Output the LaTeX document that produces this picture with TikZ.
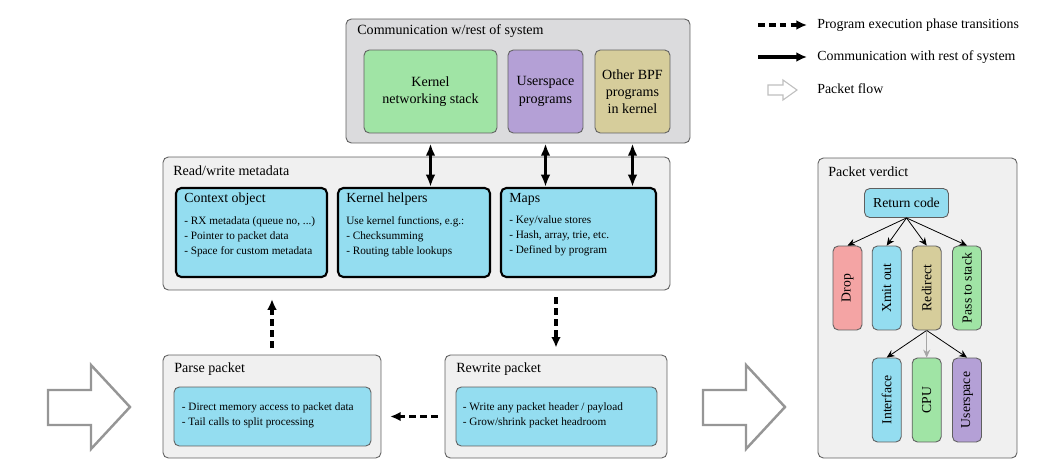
\documentclass[tikz,border=0pt]{standalone}
\usepackage{fontspec}
\setmainfont{Liberation Serif}
\usepackage{tikz}
\usetikzlibrary{arrows.meta,calc}

\definecolor{grpgray}{RGB}{240,240,240}
\definecolor{commgray}{RGB}{219,219,221}
\definecolor{edgegray}{RGB}{95,95,95}
\definecolor{boxcyan}{RGB}{148,221,240}
\definecolor{boxgreen}{RGB}{160,228,165}
\definecolor{boxpurple}{RGB}{180,160,214}
\definecolor{boxkhaki}{RGB}{214,205,155}
\definecolor{boxred}{RGB}{244,164,164}
\definecolor{flowgray}{RGB}{150,150,150}

\begin{document}
\begin{tikzpicture}[x=0.02cm, y=-0.02cm,
  group/.style={draw=edgegray, fill=grpgray, rounded corners=3pt, line width=0.5pt, inner sep=0pt},
  grptitle/.style={anchor=west, inner sep=0pt, font=\fontsize{8}{9}\selectfont},
  sysbox/.style={draw=edgegray, rounded corners=3pt, line width=0.5pt, minimum height=1.66cm,
    align=center, font=\fontsize{8}{9.8}\selectfont},
  metabox/.style={draw=black, fill=boxcyan, rounded corners=3pt, line width=1.2pt, minimum height=1.78cm},
  metatext/.style={anchor=north west, inner sep=0pt, align=left, font=\fontsize{6.4}{8.6}\selectfont},
  stepbox/.style={draw=edgegray, fill=boxcyan, rounded corners=3pt, line width=0.5pt, minimum height=1.18cm},
  steptext/.style={anchor=west, inner sep=0pt, align=left, font=\fontsize{6.4}{8.6}\selectfont},
  vbox/.style={draw=edgegray, rounded corners=3pt, line width=0.5pt, minimum width=0.58cm, minimum height=1.68cm,
    inner sep=0pt, font=\fontsize{7.8}{9}\selectfont},
  lgdtext/.style={anchor=west, inner sep=0pt, font=\fontsize{7.9}{9}\selectfont},
  commarrow/.style={line width=1.8pt, {Latex[length=7pt,width=5.5pt]}-{Latex[length=7pt,width=5.5pt]}},
  phasearrow/.style={line width=1.9pt, dash pattern=on 3.8pt off 2.4pt, -{Latex[length=6pt,width=5.5pt]}},
  verdarrow/.style={line width=0.45pt, -{Stealth[length=4.5pt,width=4pt]}},
  flowarrow/.style={draw=flowgray, fill=white, line width=1.4pt}
]
  \useasboundingbox (0,0) rectangle (1049,470);

  % communication with rest of system
  \node[group, fill=commgray, minimum width=6.88cm, minimum height=2.48cm] (comm) at (518,81) {};
  \node[grptitle] (commtitle) at (357,31) {Communication w/rest of system};
  \node[sysbox, fill=boxgreen, minimum width=2.66cm] (knet) at (430.5,91.5) {Kernel\\networking stack};
  \node[sysbox, fill=boxpurple, minimum width=1.5cm] (usp) at (545.5,91.5) {Userspace\\programs};
  \node[sysbox, fill=boxkhaki, minimum width=1.5cm] (obpf) at (632.5,91.5) {Other BPF\\programs\\in kernel};

  % read/write metadata
  \node[group, minimum width=10.14cm, minimum height=2.66cm] (rwmeta) at (416.5,223.5) {};
  \node[grptitle] (rwtitle) at (173,171) {Read/write metadata};
  \node[metabox, minimum width=3.02cm] (ctx) at (251.5,232.5) {};
  \node[metabox, minimum width=3.04cm] (khelp) at (414,232.5) {};
  \node[metabox, minimum width=3.1cm] (maps) at (578.5,232.5) {};
  \node[metatext] (ctxtext) at ($(ctx.north west)+(9,6)$)
    {{\fontsize{7.9}{10}\selectfont Context object}\\[3.5pt]
     - RX metadata (queue no, ...)\\ - Pointer to packet data\\ - Space for custom metadata};
  \node[metatext] (khelptext) at ($(khelp.north west)+(9,6)$)
    {{\fontsize{7.9}{10}\selectfont Kernel helpers}\\[3.5pt]
     Use kernel functions, e.g.:\\ - Checksumming\\ - Routing table lookups};
  \node[metatext] (mapstext) at ($(maps.north west)+(9,6)$)
    {{\fontsize{7.9}{10}\selectfont Maps}\\[3.5pt]
     - Key/value stores\\ - Hash, array, trie, etc.\\ - Defined by program};

  \draw[commarrow] (knet.south |- comm.south) -- (knet.south |- khelp.north);
  \draw[commarrow] (usp.south |- comm.south) -- (usp.south |- maps.north);
  \draw[commarrow] (obpf.south |- comm.south) -- (obpf.south |- maps.north);

  % parse and rewrite
  \node[group, minimum width=4.36cm, minimum height=2.06cm] (parse) at (272,406.5) {};
  \node[grptitle] (parsetitle) at (174,369) {Parse packet};
  \node[stepbox, minimum width=3.94cm] (parsein) at (272.5,416.5) {};
  \node[steptext] (parsetext) at ($(parsein.west)+(8,-1)$)
    {- Direct memory access to packet data\\ - Tail calls to split processing};
  \node[group, minimum width=4.44cm, minimum height=2.06cm] (rewrite) at (556,406.5) {};
  \node[grptitle] (rewritetitle) at (456,369) {Rewrite packet};
  \node[stepbox, minimum width=4.02cm] (rewritein) at (556.5,416.5) {};
  \node[steptext] (rewritetext) at ($(rewritein.west)+(7,-1)$)
    {- Write any packet header / payload\\ - Grow/shrink packet headroom};

  \draw[phasearrow, shorten <=4pt, shorten >=5pt] (parse.north) -- (parse.north |- rwmeta.south);
  \draw[phasearrow, shorten <=4pt, shorten >=4pt] (rewrite.north |- rwmeta.south) -- (rewrite.north);
  \draw[phasearrow, shorten <=4pt, shorten >=5pt] (rewrite.west |- parsein.west) -- (parse.east |- parsein.west);

  % packet flow
  \draw[flowarrow] (48,390) -- (91,390) -- (91,365) -- (130,407) -- (91,449) -- (91,425) -- (48,425) -- cycle;
  \draw[flowarrow] (703,390) -- (746,390) -- (746,365) -- (785,407) -- (746,449) -- (746,425) -- (703,425) -- cycle;

  % packet verdict
  \node[group, minimum width=3.98cm, minimum height=6.0cm] (verdict) at (917.5,308) {};
  \node[grptitle] (verdicttitle) at (828,172) {Packet verdict};
  \node[draw=edgegray, fill=boxcyan, rounded corners=3pt, line width=0.5pt, minimum width=1.68cm,
    minimum height=0.58cm, inner sep=0pt, font=\fontsize{7.8}{9}\selectfont] (retcode) at (906.5,203) {Return code};
  \node[vbox, fill=boxred] (drop) at (847.5,288) {\rotatebox{90}{Drop}};
  \node[vbox, fill=boxcyan] (xmit) at (886.7,288) {\rotatebox{90}{Xmit out}};
  \node[vbox, fill=boxkhaki] (redirect) at (926.7,288) {\rotatebox{90}{Redirect}};
  \node[vbox, fill=boxgreen] (pass) at (967,288) {\rotatebox{90}{Pass to stack}};
  \node[vbox, fill=boxcyan] (iface) at (886.7,400) {\rotatebox{90}{Interface}};
  \node[vbox, fill=boxgreen] (cpu) at (926.7,400) {\rotatebox{90}{CPU}};
  \node[vbox, fill=boxpurple] (uspace) at (967,400) {\rotatebox{90}{Userspace}};

  \foreach \t in {drop,xmit,redirect,pass}
    \draw[verdarrow] (retcode.south) -- (\t.north);
  \draw[verdarrow] (redirect.south) -- (iface.north);
  \draw[verdarrow, draw=gray!70] (redirect.south) -- (cpu.north);
  \draw[verdarrow] (redirect.south) -- (uspace.north);

  % legend
  \coordinate (lgdphasea) at (758,25);
  \coordinate (lgdphaseb) at (807,25);
  \coordinate (lgdcomma) at (758,57);
  \coordinate (lgdcommb) at (807,57);
  \draw[phasearrow] (lgdphasea) -- (lgdphaseb);
  \draw[line width=1.9pt, -{Latex[length=6pt,width=5.5pt]}] (lgdcomma) -- (lgdcommb);
  \draw[draw=gray!50, fill=white, line width=0.6pt] (768,85) -- (783,85) -- (783,80) -- (797,90) -- (783,100) -- (783,95) -- (768,95) -- cycle;
  \node[lgdtext] (lgdphase) at (817,25) {Program execution phase transitions};
  \node[lgdtext] (lgdcomm) at (817,57) {Communication with rest of system};
  \node[lgdtext] (lgdflow) at (817,89) {Packet flow};
\end{tikzpicture}
\end{document}
